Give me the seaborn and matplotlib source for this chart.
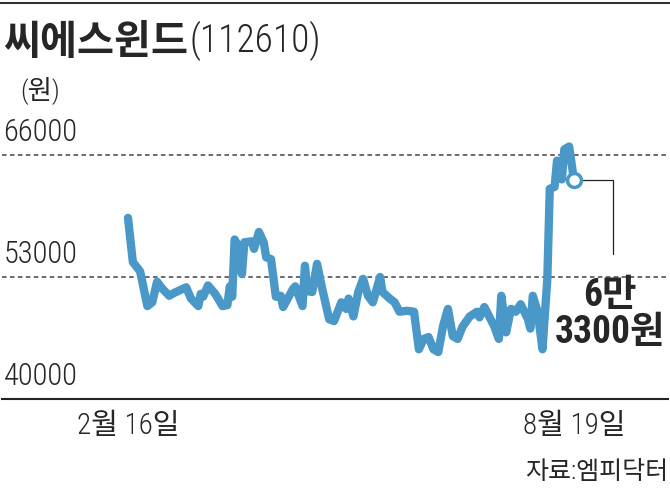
import pandas as pd
import numpy as np
import seaborn as sns
import matplotlib.pyplot as plt
from matplotlib import font_manager as fm
from matplotlib.lines import Line2D

#%% Data
dates = ["02-16", "02-18", "02-21", "02-24", "02-26", "02-28", "03-02", "03-05", "03-07", "03-12",
         "03-14", "03-17", "03-18", "03-19", "03-21", "03-24", "03-27", "03-29", "03-30", "03-31",
         "04-01", "04-02", "04-04", "04-05", "04-08", "04-09", "04-11", "04-13", "04-14", "04-16",
         "04-18", "04-20", "04-21", "04-25", "04-26", "04-29", "04-30", "05-01", "05-03", "05-05",
         "05-07", "05-10", "05-12", "05-15", "05-17", "05-18", "05-20", "05-22", "05-24", "05-26",
         "05-28", "05-31", "06-01", "06-04", "06-06", "06-08", "06-11", "06-14", "06-16", "06-18",
         "06-20", "06-22", "06-24", "06-26", "06-28", "06-30", "07-02", "07-04", "07-07", "07-10",
         "07-11", "07-13", "07-17", "07-19", "07-20", "07-22", "07-24", "07-26", "07-28", "07-31",
         "08-01", "08-02", "08-04", "08-06", "08-08", "08-09", "08-11", "08-12", "08-14", "08-15",
         "08-17", "08-19"]
prices = [59300, 54600, 53600, 49900, 50300, 52500, 51800, 51000, 51300, 51900,
          50700, 49900, 51200, 50900, 52100, 51200, 49900, 50000, 52000, 50900,
          57000, 56500, 53300, 56700, 56800, 56000, 57800, 56700, 55100, 54900,
          50900, 51000, 49800, 51700, 52000, 49900, 54200, 51500, 51400, 54400,
          51900, 48500, 48300, 50300, 49600, 50700, 48800, 51400, 52800, 51000,
          50300, 53000, 51400, 50700, 50300, 49300, 49400, 49300, 45300, 46400,
          46600, 45300, 45000, 47800, 49600, 46700, 46400, 47700, 48800, 49300,
          48700, 49800, 47800, 46400, 51000, 47100, 49600, 49300, 50100, 48500,
          47500, 51000, 49300, 45300, 52800, 62400, 62600, 65400, 63400, 66600,
          66900, 63300]

ytick_vals = [40000, 53000, 66000]
ytick_labels = ["40000", "53000", "66000"]
xtick_dates = ["2021-02-16", "2021-08-19"]
xtick_labels = ["2월 16일", "8월 19일"]

title = "씨에스윈드"
code = "(112610)"
unit = "(원)"
last_label = "6만\n3300원"
source = "자료:엠피닥터"

LINE = "#4a98c8"

#%% Fonts: narrow latin face, Korean falls back to Noto CJK
names = {f.name for f in fm.fontManager.ttflist}
narrow = next((n for n in ['Roboto Condensed', 'Archivo Narrow', 'Liberation Sans Narrow',
                           'Liberation Sans'] if n in names), 'DejaVu Sans')

sns.set_style("white")
plt.rcParams['font.family'] = [narrow, 'Noto Sans CJK KR', 'DejaVu Sans']

df = pd.DataFrame({"date": pd.to_datetime(["2021-" + d for d in dates]), "price": prices})

fig = plt.figure(figsize=(6.7, 4.91), dpi=100)
ax = fig.add_axes([2/670, 1 - 399/491, 666/670, 269/491])

# dashed reference lines
for v in ytick_vals[1:]:
    ax.axhline(v, color='#444444', lw=1.1, dashes=(3, 2.2), zorder=1)

sns.lineplot(data=df, x="date", y="price", color=LINE, lw=6, ax=ax,
             solid_capstyle='round', solid_joinstyle='round', zorder=3)

last_date = df["date"].iloc[-1]
last_val = df["price"].iloc[-1]
ax.plot([last_date], [last_val], 'o', ms=10, mfc='white', mec=LINE, mew=2.5, zorder=4)

# connector + label for the last value
ax.annotate("", xy=(last_date, last_val), xytext=(28, -53), textcoords='offset points',
            arrowprops=dict(arrowstyle='-', color='#222222', lw=0.9, shrinkA=0, shrinkB=6,
                            connectionstyle='angle,angleA=90,angleB=0,rad=0'))
ax.annotate(last_label, xy=(last_date, last_val), xytext=(26, -96), textcoords='offset points',
            ha='center', va='center', fontsize=27, fontweight='bold', linespacing=1.0)

# y labels sitting above their lines
for v, lab in zip(ytick_vals, ytick_labels):
    ax.annotate(lab, xy=(0, v), xycoords=('axes fraction', 'data'), xytext=(1, 10),
                textcoords='offset points', ha='left', va='baseline', fontsize=22,
                fontweight='light')

ax.set_ylim(40000, 68664)
ax.set_xlim(pd.Timestamp("2021-02-16") - pd.Timedelta(days=51.98),
            pd.Timestamp("2021-08-19") + pd.Timedelta(days=38.78))
ax.set_yticks([])
ax.set_xticks(pd.to_datetime(xtick_dates))
ax.set_xticklabels(xtick_labels, fontweight='light')
ax.tick_params(axis='x', direction='in', length=11.5, width=1, pad=9, labelsize=21, color='#222222')
ax.set_xlabel("")
ax.set_ylabel("")
sns.despine(ax=ax, left=True)
ax.spines['bottom'].set_linewidth(1.5)
ax.spines['bottom'].set_color('#222222')

#%% Header / footer
fig.add_artist(Line2D([0, 1], [1 - 3/491, 1 - 3/491], color='#333333', lw=1.5,
                      transform=fig.transFigure))
t1 = fig.text(3/670, 1 - 43/491, title, fontsize=29, fontweight='bold',
              family=['Noto Sans CJK KR'], va='center', ha='left')
fig.canvas.draw()
bb = t1.get_window_extent()
fig.text((bb.x1 + 2) / 670, 1 - 41/491, code, fontsize=27, va='center', ha='left',
         fontweight='light')
fig.text(20/670, 1 - 90/491, unit, fontsize=19, va='center', ha='left', fontweight='light')
fig.text(668/670, 1 - 472/491, source, fontsize=18, va='center', ha='right', fontweight='light')

fig.savefig("out.png", dpi=100)
